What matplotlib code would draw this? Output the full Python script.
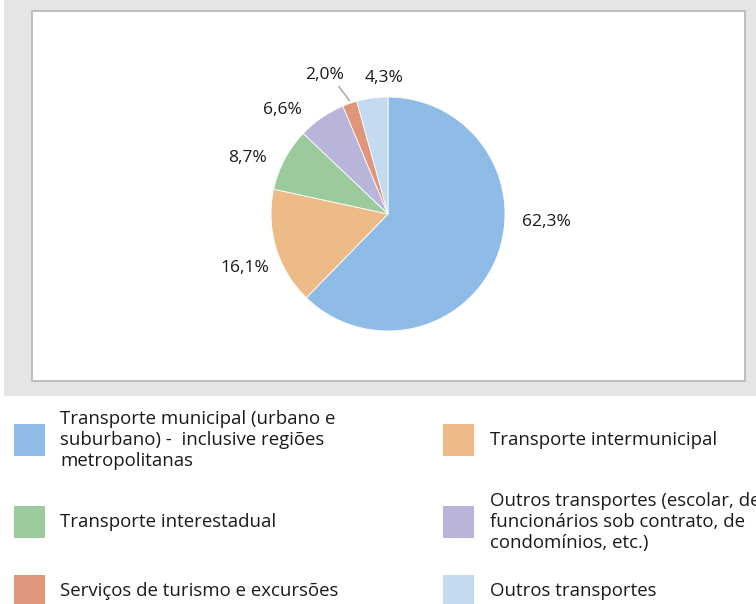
import matplotlib
matplotlib.use("Agg")
import matplotlib.pyplot as plt
from matplotlib.patches import Rectangle

categories = [
    "Transporte municipal (urbano e\nsuburbano) -  inclusive regiões\nmetropolitanas",
    "Transporte intermunicipal",
    "Transporte interestadual",
    "Outros transportes (escolar, de\nfuncionários sob contrato, de\ncondomínios, etc.)",
    "Serviços de turismo e excursões",
    "Outros transportes",
]
values = [62.3, 16.1, 8.7, 6.6, 2.0, 4.3]
value_labels = ["62,3%", "16,1%", "8,7%", "6,6%", "2,0%", "4,3%"]
colors = ["#8FBCE6", "#EDBB87", "#9BCB9C", "#B9B5DA", "#E0967A", "#C3DAF0"]

legend_font = ["Open Sans", "DejaVu Sans"]
label_font = ["Open Sans", "DejaVu Sans"]

W, H = 756, 604
fig = plt.figure(figsize=(W / 100, H / 100), dpi=100)
fig.patch.set_facecolor("white")

def fx(px):
    return px / W

def fy(py):
    return 1 - py / H

# gray panel
fig.patches.append(Rectangle((fx(4), fy(396)), 1 - fx(4), 396 / H,
                             transform=fig.transFigure, facecolor="#E4E5E7",
                             edgecolor="none", zorder=-3))
# white box
fig.patches.append(Rectangle((fx(32), fy(381)), (745 - 32) / W, (381 - 11) / H,
                             transform=fig.transFigure, facecolor="white",
                             edgecolor="#B5B5B5", linewidth=1.2, zorder=-2))

cx, cy, r = 388, 214, 117
ax = fig.add_axes([fx(cx - r), fy(cy + r), 2 * r / W, 2 * r / H])
ax.set_zorder(2)
ax.patch.set_visible(False)
ax.pie(values, colors=colors, startangle=90, counterclock=False, radius=1,
       wedgeprops=dict(edgecolor="white", linewidth=0.6))
ax.set_xlim(-1, 1)
ax.set_ylim(-1, 1)
ax.set_aspect("equal")
ax.axis("off")

label_pos = [(1.35, -0.07), (-1.22, -0.46), (-1.20, 0.48), (-0.90, 0.89),
             (-0.54, 1.19), (-0.03, 1.16)]
for (x, y), t in zip(label_pos, value_labels):
    ax.text(x, y, t, ha="center", va="center", fontsize=12.5,
            family=label_font, color="#1a1a1a", clip_on=False)
ax.plot([-0.42, -0.33], [1.09, 0.97], color="#999999", lw=0.9, clip_on=False)

# legend
col_sw = [14, 443]
col_tx = [60, 490]
row_y = [440, 522, 591]
for i, (cat, c) in enumerate(zip(categories, colors)):
    col = i % 2
    row = i // 2
    yc = row_y[row]
    fig.patches.append(Rectangle((fx(col_sw[col]), fy(yc + 16)), 31 / W, 32 / H,
                                 transform=fig.transFigure, facecolor=c,
                                 edgecolor="none", zorder=2))
    fig.text(fx(col_tx[col]), fy(yc), cat, ha="left", va="center",
             fontsize=13.4, family=legend_font, color="#1a1a1a", linespacing=1.18)

fig.savefig("out.png", dpi=100)
